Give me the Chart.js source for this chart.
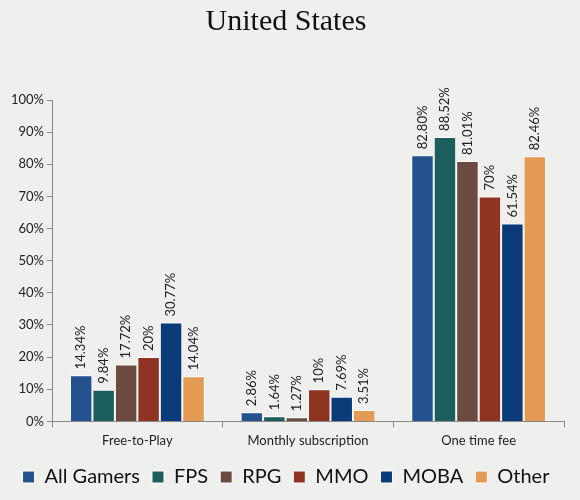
<!DOCTYPE html>
<html>
<head>
<meta charset="utf-8">
<script src="https://cdn.jsdelivr.net/npm/chart.js@4"></script>
<style>
  html, body { margin: 0; padding: 0; background: #efefee; }
  #wrap { width: 580px; height: 500px; }
</style>
</head>
<body>
<div id="wrap"><canvas id="chart" width="580" height="500"></canvas></div>
<script>
// Data
const categories = ['Free-to-Play', 'Monthly subscription', 'One time fee'];
const allGamers = [14.34, 2.86, 82.80];
const fps = [9.84, 1.64, 88.52];
const rpg = [17.72, 1.27, 81.01];
const mmo = [20, 10, 70];
const moba = [30.77, 7.69, 61.54];
const other = [14.04, 3.51, 82.46];
const valueLabels = [
    ['14.34%', '2.86%', '82.80%'],
    ['9.84%', '1.64%', '88.52%'],
    ['17.72%', '1.27%', '81.01%'],
    ['20%', '10%', '70%'],
    ['30.77%', '7.69%', '61.54%'],
    ['14.04%', '3.51%', '82.46%']
];

const series = [
    { label: 'All Gamers', data: allGamers, color: '#24528e' },
    { label: 'FPS', data: fps, color: '#1b5e5d' },
    { label: 'RPG', data: rpg, color: '#6b4b3f' },
    { label: 'MMO', data: mmo, color: '#8f3422' },
    { label: 'MOBA', data: moba, color: '#0b3a78' },
    { label: 'Other', data: other, color: '#e39a52' }
];

const sans = 'Lato, "Open Sans", sans-serif';

// rotated value labels above each bar
const barLabels = {
    id: 'barLabels',
    afterDatasetsDraw(chart) {
        const ctx = chart.ctx;
        ctx.save();
        ctx.font = '13px ' + sans;
        ctx.fillStyle = '#222';
        ctx.textAlign = 'left';
        ctx.textBaseline = 'middle';
        chart.data.datasets.forEach((ds, i) => {
            chart.getDatasetMeta(i).data.forEach((bar, j) => {
                ctx.save();
                ctx.translate(bar.x, bar.y - 6);
                ctx.rotate(-Math.PI / 2);
                ctx.fillText(valueLabels[i][j], 0, 0);
                ctx.restore();
            });
        });
        ctx.restore();
    }
};

new Chart(document.getElementById('chart'), {
    type: 'bar',
    data: {
        labels: categories,
        datasets: series.map(s => ({
            label: s.label,
            data: s.data,
            backgroundColor: s.color,
            borderColor: '#ffffff',
            borderWidth: 1,
            borderSkipped: 'bottom',
            categoryPercentage: 0.79,
            barPercentage: 1
        }))
    },
    options: {
        responsive: false,
        animation: false,
        layout: { padding: { left: 8, right: 16, top: 0, bottom: 3 } },
        plugins: {
            title: {
                display: true,
                text: 'United States',
                color: '#111',
                font: { family: '"Liberation Serif", serif', size: 30, weight: 'normal' },
                padding: { top: 4, bottom: 60 }
            },
            legend: {
                position: 'bottom',
                labels: {
                    color: '#111',
                    font: { family: sans, size: 20 },
                    boxWidth: 12,
                    boxHeight: 12,
                    padding: 12
                }
            },
            tooltip: { enabled: false }
        },
        scales: {
            x: {
                grid: { drawOnChartArea: false, offset: true, color: '#888', tickLength: 6 },
                border: { color: '#888' },
                ticks: { color: '#222', font: { family: sans, size: 13 }, padding: 6 }
            },
            y: {
                min: 0,
                max: 100,
                ticks: {
                    stepSize: 10,
                    color: '#222',
                    font: { family: sans, size: 13 },
                    callback: v => v + '%'
                },
                grid: { drawOnChartArea: false, color: '#888', tickLength: 5 },
                border: { color: '#888' }
            }
        }
    },
    plugins: [barLabels]
});
</script>
</body>
</html>
